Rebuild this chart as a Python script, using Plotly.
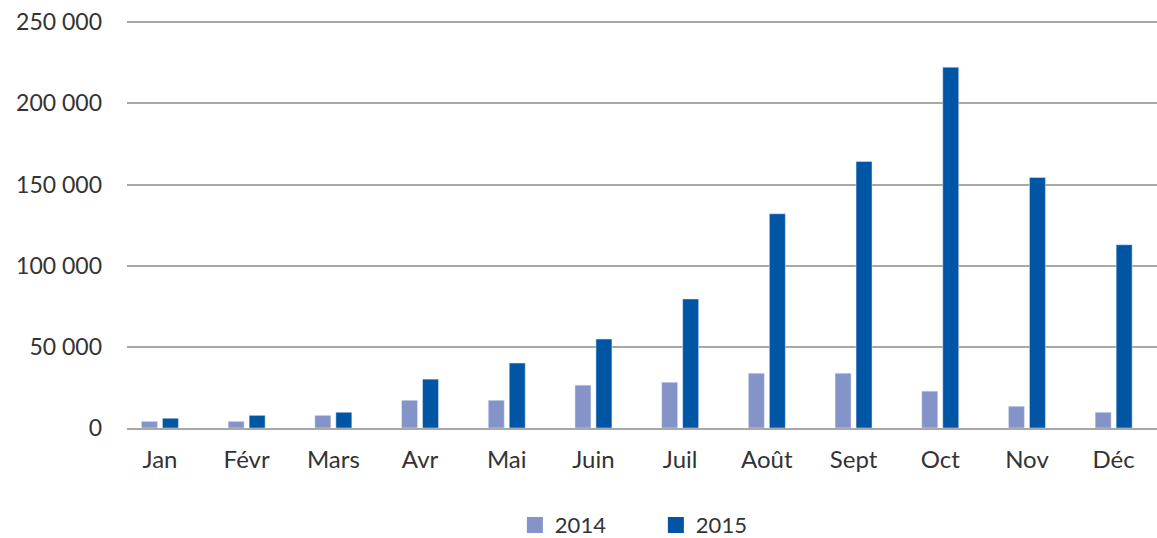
import plotly.graph_objects as go

months = ["Jan", "Févr", "Mars", "Avr", "Mai", "Juin", "Juil", "Août", "Sept", "Oct", "Nov", "Déc"]
values_2014 = [4100, 4100, 7800, 17100, 17100, 26400, 28200, 33800, 33800, 22700, 13400, 9700]
values_2015 = [6000, 7800, 9700, 30100, 40000, 54800, 79500, 132000, 164200, 222300, 154300, 112900]
tick_vals = [0, 50000, 100000, 150000, 200000, 250000]
tick_text = ["0", "50 000", "100 000", "150 000", "200 000", "250 000"]
series_names = ["2014", "2015"]
series_colors = ["#8594C8", "#0055A4"]

font_family = "Lato, 'Open Sans', sans-serif"

fig = go.Figure()
for name, vals, col in zip(series_names, [values_2014, values_2015], series_colors):
    fig.add_trace(go.Bar(x=months, y=vals, name=name, marker_color=col, showlegend=False))
for name, col in zip(series_names, series_colors):
    fig.add_trace(go.Scatter(x=[None], y=[None], mode="markers", name=name,
                             marker=dict(symbol="square", size=16, color=col)))

fig.update_layout(
    width=1157, height=538,
    margin=dict(l=127, r=0, t=19, b=110),
    paper_bgcolor="white", plot_bgcolor="white",
    barmode="group", bargap=0.516, bargroupgap=0.238,
    font=dict(family=font_family, size=22, color="#333333"),
    showlegend=True,
    legend=dict(orientation="h", xref="container", x=0.445, xanchor="left",
                yref="container", y=0.024, yanchor="middle",
                font=dict(size=22, color="#333333"), entrywidth=96,
                itemsizing="trace"),
)
fig.update_yaxes(range=[0, 252000], tickvals=tick_vals, ticktext=tick_text,
                 showgrid=True, gridcolor="#A8A8A8", gridwidth=1.5,
                 zeroline=False, showline=False, ticks="", automargin=False,
                 ticklabelstandoff=24, tickfont=dict(size=23, color="#333333"))
fig.update_xaxes(range=[-0.38, 11.5], showgrid=False, showline=True,
                 linecolor="#A8A8A8", linewidth=2,
                 ticks="", ticklabelstandoff=9, automargin=False,
                 tickfont=dict(size=24, color="#333333"))

fig.write_html("out.html", config={"displayModeBar": False},
               post_script="document.body.style.margin='0';document.body.style.overflow='hidden';")
